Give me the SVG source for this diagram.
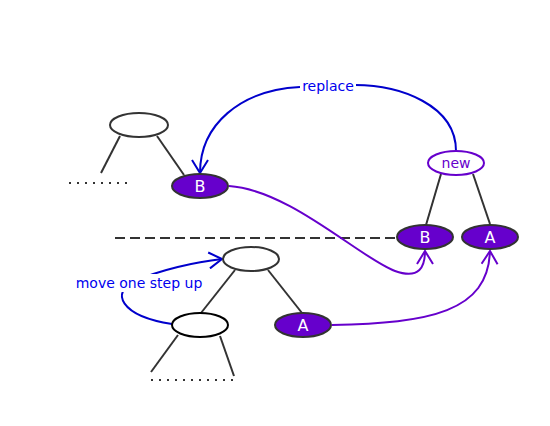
<svg xmlns="http://www.w3.org/2000/svg" width="550" height="426" viewBox="0 0 550 426">
<defs>
<style>
.edge{stroke:#333;stroke-width:2;fill:none}
.plain{fill:#fff;stroke:#333;stroke-width:2}
.fill{fill:#6600cc;stroke:#333;stroke-width:2}
.lbl{font-family:"DejaVu Sans",sans-serif;font-size:16px;fill:#fff;text-anchor:middle}
.blue{stroke:#0000cc;stroke-width:2;fill:none}
.purple{stroke:#6600cc;stroke-width:2;fill:none}
.btxt{font-family:"DejaVu Sans",sans-serif;font-size:14px;fill:#0000ee}
.dots{stroke:#333;stroke-width:2;stroke-dasharray:2,6;fill:none}
</style>
<marker id="ab" viewBox="0 0 18 18" refX="17" refY="9" markerWidth="18" markerHeight="18" markerUnits="userSpaceOnUse" orient="auto">
<path d="M4,1 L17,9 L4,17" fill="none" stroke="#0000cc" stroke-width="2"/>
</marker>
<marker id="ap" viewBox="0 0 18 18" refX="17" refY="9" markerWidth="18" markerHeight="18" markerUnits="userSpaceOnUse" orient="auto">
<path d="M4,1 L17,9 L4,17" fill="none" stroke="#6600cc" stroke-width="2"/>
</marker>
</defs>
<rect width="550" height="426" fill="#fff"/>
<g id="tree-edges">
<line class="edge" x1="120" y1="136" x2="101" y2="173"/>
<line class="edge" x1="157" y1="136" x2="184" y2="175"/>
<line class="edge" x1="441" y1="174" x2="426" y2="225"/>
<line class="edge" x1="473" y1="174" x2="490" y2="224"/>
<line class="edge" x1="235" y1="270" x2="201" y2="313"/>
<line class="edge" x1="268" y1="270" x2="302" y2="313"/>
<line class="edge" x1="178" y1="335" x2="151" y2="372"/>
<line class="edge" x1="220" y1="336" x2="234" y2="376"/>
<line class="dots" x1="69" y1="183" x2="130" y2="183"/>
<line class="dots" x1="151" y1="380" x2="236" y2="380"/>
<line x1="115" y1="238" x2="397" y2="238" stroke="#333" stroke-width="2" stroke-dasharray="10,5"/>
</g>
<g id="connectors">
<path class="blue" d="M456,151 C456,105 400,85 355,85"/>
<path class="blue" d="M300,87 C240,90 200,125 200,173" marker-end="url(#ab)"/>
<path class="blue" d="M172,324 C120,316 110,292 135,281 C160,270 195,262 222,259" marker-end="url(#ab)"/>
<path class="purple" d="M229,186 C290,190 360,258 395,271 C420,280 425,266 425,251" marker-end="url(#ap)"/>
<path class="purple" d="M332,325 C430,323 488,312 490,251" marker-end="url(#ap)"/>
</g>
<g id="label-replace">
<rect x="300" y="76" width="56" height="18" fill="#fff"/>
<text class="btxt" x="328" y="91" text-anchor="middle">replace</text>
</g>
<g id="label-move">
<rect x="73" y="274" width="132" height="18" fill="#fff"/>
<text class="btxt" x="139" y="288" text-anchor="middle">move one step up</text>
</g>
<g id="n-top"><ellipse class="plain" cx="139" cy="125" rx="29" ry="12"/></g>
<g id="n-B1"><ellipse class="fill" cx="200" cy="186" rx="28" ry="12"/><text class="lbl" x="200" y="192">B</text></g>
<g id="n-new"><ellipse cx="456" cy="163" rx="28" ry="12" fill="#fff" stroke="#6600cc" stroke-width="2"/><text x="456" y="168" font-family="DejaVu Sans, sans-serif" font-size="14" fill="#6600cc" text-anchor="middle">new</text></g>
<g id="n-B2"><ellipse class="fill" cx="425" cy="237" rx="28" ry="12"/><text class="lbl" x="425" y="243">B</text></g>
<g id="n-A2"><ellipse class="fill" cx="490" cy="237" rx="28" ry="12"/><text class="lbl" x="490" y="243">A</text></g>
<g id="n-mid"><ellipse class="plain" cx="251" cy="259" rx="28" ry="12"/></g>
<g id="n-low"><ellipse cx="200" cy="325" rx="28" ry="12" fill="#fff" stroke="#000" stroke-width="2"/></g>
<g id="n-A1"><ellipse class="fill" cx="303" cy="325" rx="28" ry="12"/><text class="lbl" x="303" y="331">A</text></g>
</svg>
